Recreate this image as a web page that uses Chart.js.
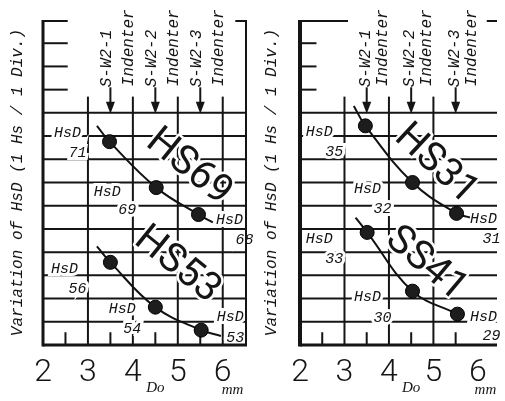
<!DOCTYPE html>
<html>
<head>
<meta charset="utf-8">
<script src="https://cdn.jsdelivr.net/npm/chart.js@4.4.0/dist/chart.umd.min.js"></script>
<style>
  body { margin: 0; background: #fff; }
  .panel { position: absolute; top: 0; height: 401px; }
</style>
</head>
<body>
<div class="panel" style="left:0;width:255px"><canvas id="left"></canvas></div>
<div class="panel" style="left:255px;width:250px"><canvas id="right"></canvas></div>
<script>
// axis stuff
const doTicks = [2, 3, 4, 5, 6];
const halfDo = [2.5, 3.5, 4.5, 5.5];
const gridDiv = [1, 2, 3, 4, 5, 6, 7, 8, 9, 10];
const shortDiv = [11, 12, 13];
const yTitle = 'Variation of HsD (1 Hs / 1 Div.)';
const indenters = ['S-W2-1', 'S-W2-2', 'S-W2-3'];
const indenterDo = [3.5, 4.5, 5.5];

// left panel
const hs69Do = [3.48, 4.52, 5.46];
const hs69Div = [8.76, 6.78, 5.62];
const hs69HsD = ['71', '69', '68'];
const hs69Curve = [[3.2, 9.44], [5.78, 5.28]];   // curve ends beyond the dots

const hs53Do = [3.5, 4.5, 5.52];
const hs53Div = [3.56, 1.63, 0.64];
const hs53HsD = ['56', '54', '53'];
const hs53Curve = [[3.2, 4.25], [5.96, 0.39]];

// right panel
const hs31Do = [3.47, 4.53, 5.52];
const hs31Div = [9.44, 7.0, 5.67];
const hs31HsD = ['35', '32', '31'];
const hs31Curve = [[3.21, 10.3], [5.82, 5.49]];

const ss41Do = [3.51, 4.53, 5.54];
const ss41Div = [4.85, 2.32, 1.33];
const ss41HsD = ['33', '30', '29'];
const ss41Curve = [[3.25, 5.49], [5.63, 1.24]];

const leftNames = ['HS69', 'HS53'];
const rightNames = ['HS31', 'SS41'];

function pts(xs, ys) {
  return xs.map((v, i) => ({x: v, y: ys[i]}));
}

function seriesSets(xs, ys, ends) {
  const curve = [{x: ends[0][0], y: ends[0][1]}, ...pts(xs, ys), {x: ends[1][0], y: ends[1][1]}];
  return [
    {data: pts(xs, ys), pointRadius: 7, pointBackgroundColor: '#1d1d1d', pointBorderColor: '#000', pointBorderWidth: 1, showLine: false, order: 0},
    {data: curve, pointRadius: 0, showLine: true, borderColor: '#111', borderWidth: 2, tension: 0.4, order: 1}
  ];
}

const ink = '#151515';

const hardnessPlugin = {
  id: 'hardness',
  beforeDatasetsDraw(chart, args, o) {
    const {ctx, chartArea: a, scales: {x, y}} = chart;
    const X = v => x.getPixelForValue(v);
    const Y = v => y.getPixelForValue(v);
    const seg = (x1, y1, x2, y2, w) => {
      ctx.lineWidth = w || 2;
      ctx.beginPath(); ctx.moveTo(x1, y1); ctx.lineTo(x2, y2); ctx.stroke();
    };
    ctx.save();
    ctx.strokeStyle = ink;
    ctx.fillStyle = ink;

    // grid
    gridDiv.forEach(d => seg(a.left, Y(d), a.right, Y(d)));
    shortDiv.forEach(d => seg(a.left, Y(d), X(o.tickTo), Y(d)));
    o.topSegs.forEach(s => seg(X(s[0]), a.top + 1, X(s[1]), a.top + 1));
    o.vLines.forEach(v => seg(X(v), Y(0), X(v), Y(10.7)));
    halfDo.forEach(v => seg(X(v), Y(0), X(v), Y(0.55)));

    // indenter arrows
    ctx.font = 'italic 16px "Liberation Mono"';
    ctx.textAlign = 'left';
    ctx.textBaseline = 'middle';
    indenterDo.forEach((d, i) => {
      const px = X(d);
      seg(px, Y(11.1), px, Y(10.3), 2);
      ctx.beginPath();
      ctx.moveTo(px, Y(10) + 1);
      ctx.lineTo(px - 4.5, Y(10) - 11);
      ctx.lineTo(px + 4.5, Y(10) - 11);
      ctx.closePath();
      ctx.fill();
      ctx.save();
      ctx.translate(px + o.swDx, Y(11.1));
      ctx.rotate(-Math.PI / 2);
      ctx.fillText(indenters[i], 0, 0);
      ctx.restore();
      ctx.save();
      ctx.translate(px + o.indDx, Y(11.15));
      ctx.rotate(-Math.PI / 2);
      ctx.fillText('Indenter', 0, 0);
      ctx.restore();
    });

    const halo = (t, px, py) => {
      ctx.lineWidth = 6;
      ctx.strokeStyle = '#fff';
      ctx.strokeText(t, px, py);
      ctx.fillText(t, px, py);
      ctx.strokeStyle = ink;
    };

    // big grade names
    o.series.forEach(s => {
      ctx.save();
      ctx.translate(X(s.big[0]), Y(s.big[1]));
      ctx.rotate(s.big[2] * Math.PI / 180);
      ctx.font = '40px Roboto';
      ctx.textAlign = 'center';
      ctx.textBaseline = 'middle';
      ctx.lineJoin = 'round';
      ctx.lineWidth = 5;
      ctx.strokeStyle = '#fff';
      ctx.strokeText(s.name, 0, 0);
      ctx.fillText(s.name, 0, 0);
      ctx.restore();
    });

    // point labels
    ctx.font = 'italic 15px "Liberation Mono"';
    ctx.textAlign = 'center';
    ctx.textBaseline = 'middle';
    o.series.forEach(s => {
      s.x.forEach((v, i) => {
        const px = X(v), py = Y(s.y[i]);
        halo('HsD', px + s.h[i][0], py + s.h[i][1]);
        halo(s.v[i], px + s.n[i][0], py + s.n[i][1]);
      });
    });

    // frame
    ctx.strokeStyle = ink;
    if (o.rightBorder) seg(a.right - 1, a.top, a.right - 1, a.bottom, 2);
    seg(a.left, a.top, a.left, a.bottom + 1.5, o.axisW);
    seg(a.left, a.bottom, a.right, a.bottom, 3);

    // Do / mm
    ctx.font = 'italic 15px "Liberation Serif"';
    ctx.fillStyle = ink;
    ctx.fillText('Do', X(4.5), a.bottom + 43);
    ctx.fillText('mm', X(o.mmAt), a.bottom + 45);
    ctx.restore();
  }
};

function makeChart(id, datasets, c) {
  return new Chart(document.getElementById(id), {
    type: 'scatter',
    data: {datasets: datasets},
    options: {
      responsive: true,
      maintainAspectRatio: false,
      animation: false,
      layout: {padding: {left: c.padLeft, top: 20, right: c.padRight, bottom: 0}},
      plugins: {legend: {display: false}, tooltip: {enabled: false}, hardness: c.ann},
      scales: {
        x: {
          type: 'linear', min: 2, max: c.xMax,
          afterBuildTicks: s => { s.ticks = doTicks.map(v => ({value: v})); },
          grid: {display: false, drawTicks: false},
          border: {display: false},
          ticks: {color: ink, padding: 12, maxRotation: 0, autoSkip: false,
                  font: {family: 'Roboto', size: 32, weight: '300', lineHeight: 1}}
        },
        y: {
          min: 0, max: 14,
          grid: {display: false, drawTicks: false},
          border: {display: false},
          ticks: {display: false},
          title: {display: true, text: yTitle, color: ink,
                  font: {family: 'Liberation Mono', style: 'italic', size: 16, lineHeight: 1.2},
                  padding: {top: 4, bottom: c.titleGap}}
        }
      }
    },
    plugins: [hardnessPlugin]
  });
}

makeChart('left',
  [...seriesSets(hs69Do, hs69Div, hs69Curve), ...seriesSets(hs53Do, hs53Div, hs53Curve)],
  {padLeft: 4.4, padRight: 3, titleGap: 15.4, xMax: 6.54,
   ann: {tickTo: 2.55, topSegs: [[2, 2.55], [6.28, 6.54]], vLines: [3, 4, 5, 6], rightBorder: true,
         swDx: -4, indDx: 18, axisW: 3, mmAt: 6.22,
         series: [
           {name: leftNames[0], x: hs69Do, y: hs69Div, v: hs69HsD, big: [5.24, 7.64, 39],
            h: [[-42, -9], [-49, 4], [31, 5]], n: [[-32, 11], [-29, 22], [46, 25]]},
           {name: leftNames[1], x: hs53Do, y: hs53Div, v: hs53HsD, big: [4.98, 3.43, 39],
            h: [[-46, 7], [-33, 2], [29, -13]], n: [[-33, 27], [-23, 22], [34, 8]]}
         ]}});

makeChart('right',
  [...seriesSets(hs31Do, hs31Div, hs31Curve), ...seriesSets(ss41Do, ss41Div, ss41Curve)],
  {padLeft: 3.5, padRight: 0, titleGap: 18.3, xMax: 6.43,
   ann: {tickTo: 2.37, topSegs: [[2, 3.08], [6.2, 6.43]], vLines: [3, 4, 5], rightBorder: false,
         swDx: -1, indDx: 16, axisW: 4, mmAt: 6.17,
         series: [
           {name: rightNames[0], x: hs31Do, y: hs31Div, v: hs31HsD, big: [5.05, 7.77, 43],
            h: [[-46, 6], [-45, 7], [27, 6]], n: [[-31, 26], [-30, 27], [35, 26]]},
           {name: rightNames[1], x: ss41Do, y: ss41Div, v: ss41HsD, big: [4.83, 3.48, 40],
            h: [[-48, 7], [-45, 6], [26, 3]], n: [[-33, 27], [-30, 27], [34, 22]]}
         ]}});
</script>
</body>
</html>
